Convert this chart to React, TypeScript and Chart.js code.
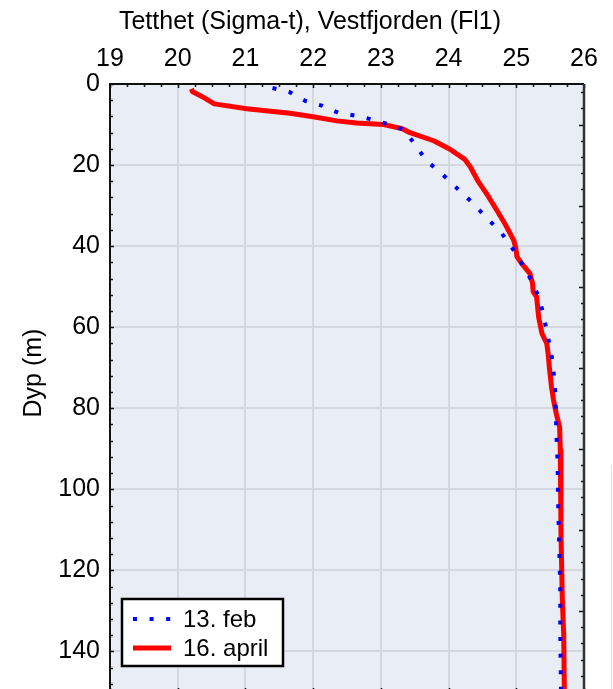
import React, { useEffect, useRef } from "react";
import { Chart, registerables } from "chart.js";

Chart.register(...registerables);

const chartTitle = "Tetthet (Sigma-t), Vestfjorden (Fl1)";
const yAxisTitle = "Dyp (m)";
const seriesLabels = ["13. feb", "16. april"];

// 13. feb: sigma-t and depth (m)
const febSigma = [21.40, 21.64, 21.89, 22.14, 22.37, 22.62, 22.86, 23.10, 23.33, 23.51, 23.67, 23.88, 24.11, 24.34, 24.55, 24.78, 24.95, 25.10, 25.23, 25.34, 25.40, 25.45, 25.50, 25.54, 25.56, 25.58, 25.59, 25.61, 25.62, 25.64, 25.65, 25.65, 25.66];
const febDepth = [1.0, 1.9, 4.2, 5.4, 7.1, 7.8, 8.7, 9.9, 11.2, 15.0, 18.9, 21.8, 25.5, 29.1, 32.8, 36.7, 40.7, 44.8, 48.7, 52.8, 56.9, 61.0, 65.0, 68.9, 73.0, 77.1, 85.2, 93.3, 105, 117.6, 125, 135, 150];

// 16. april: sigma-t and depth (m)
const aprSigma = [20.20, 20.22, 20.35, 20.54, 21.02, 21.66, 22.00, 22.35, 22.64, 23.04, 23.31, 23.43, 23.78, 24.02, 24.24, 24.32, 24.44, 24.59, 24.71, 24.83, 24.96, 24.99, 25.01, 25.08, 25.20, 25.24, 25.25, 25.30, 25.33, 25.38, 25.45, 25.47, 25.49, 25.52, 25.55, 25.59, 25.64, 25.65, 25.66, 25.68, 25.70, 25.71];
const aprDepth = [1.2, 1.9, 3.0, 4.9, 6.1, 7.2, 8.1, 9.1, 9.6, 10.0, 11.0, 12.0, 14.0, 16.1, 18.6, 20.4, 24.1, 27.8, 31.1, 34.4, 38.5, 40.2, 42.6, 44.3, 46.7, 49.2, 51.3, 52.5, 57.5, 61.6, 64.0, 66.5, 70.2, 74.7, 78.0, 81.3, 84.6, 90.4, 110.9, 127.4, 135.6, 150];

const xMin = 19;
const xMax = 26;
const xStep = 1;
const yMin = 0;
const yMax = 150;
const yStep = 20;

const FONT = "'Liberation Sans', Arial, sans-serif";
const FS = 25;

const framePlugin = {
  id: "frame",
  beforeDraw(chart: any) {
    const { ctx, chartArea: a } = chart;
    ctx.save();
    ctx.fillStyle = "#e9edf5";
    ctx.fillRect(a.left, a.top, a.right - a.left, a.bottom - a.top);
    ctx.restore();
  },
  afterDatasetsDraw(chart: any) {
    const { ctx, chartArea: a } = chart;
    const xs = chart.scales.x;
    const ys = chart.scales.y;
    ctx.save();
    ctx.strokeStyle = "#111";
    ctx.lineWidth = 1.5;
    for (let v = xMin; v <= xMax + 1e-6; v += 0.25) {
      const px = Math.round(xs.getPixelForValue(v)) + 0.5;
      const major = Math.abs(v - Math.round(v)) < 1e-6;
      const len = major ? 4 : 3;
      ctx.beginPath();
      ctx.moveTo(px, a.top);
      ctx.lineTo(px, a.top + len);
      ctx.moveTo(px, a.bottom);
      ctx.lineTo(px, a.bottom - len);
      ctx.stroke();
    }
    for (let d = yMin; d <= yMax; d += 4) {
      const py = Math.round(ys.getPixelForValue(d)) + 0.5;
      const major = d % 20 === 0;
      ctx.beginPath();
      ctx.moveTo(a.left, py);
      ctx.lineTo(a.left + (major ? 4 : 3), py);
      ctx.stroke();
    }
    for (let d = 2; d <= yMax; d += 4) {
      const py = Math.round(ys.getPixelForValue(d)) + 0.5;
      const major = (d - 10) % 20 === 0;
      ctx.beginPath();
      ctx.moveTo(a.right, py);
      ctx.lineTo(a.right - (major ? 5 : 3), py);
      ctx.stroke();
    }
    ctx.lineWidth = 2;
    ctx.strokeStyle = "#111";
    ctx.beginPath();
    ctx.moveTo(a.left, a.bottom);
    ctx.lineTo(a.left, a.top);
    ctx.lineTo(a.right, a.top);
    ctx.moveTo(a.left, a.bottom);
    ctx.lineTo(a.right, a.bottom);
    ctx.stroke();
    ctx.lineWidth = 2.5;
    ctx.strokeStyle = "#333";
    ctx.beginPath();
    ctx.moveTo(a.right, a.top);
    ctx.lineTo(a.right, a.bottom);
    ctx.stroke();

    // chart title
    ctx.fillStyle = "#000";
    ctx.font = `${FS}px ${FONT}`;
    ctx.textAlign = "center";
    ctx.textBaseline = "middle";
    ctx.fillText(chartTitle, 310, 22);

    // y axis title
    ctx.save();
    ctx.translate(34, 373);
    ctx.rotate(-Math.PI / 2);
    ctx.fillStyle = "#000";
    ctx.font = `${FS}px ${FONT}`;
    ctx.textAlign = "center";
    ctx.textBaseline = "middle";
    ctx.fillText(yAxisTitle, 0, 0);
    ctx.restore();

    const ds = chart.data.datasets;
    const bx = a.left + 12;
    const by = a.top + 515;
    const bw = 161;
    const bh = 67;
    ctx.fillStyle = "#fff";
    ctx.fillRect(bx, by, bw, bh);
    ctx.lineWidth = 2.5;
    ctx.strokeStyle = "#000";
    ctx.strokeRect(bx, by, bw, bh);
    const rows = [by + 20, by + 49];
    ds.forEach((d: any, i: number) => {
      const ry = rows[i];
      ctx.save();
      ctx.strokeStyle = d.borderColor;
      ctx.lineWidth = d.borderWidth;
      ctx.setLineDash(d.borderDash || []);
      ctx.beginPath();
      ctx.moveTo(bx + 11, ry);
      ctx.lineTo(bx + 49, ry);
      ctx.stroke();
      ctx.restore();
      ctx.fillStyle = "#000";
      ctx.font = `24px ${FONT}`;
      ctx.textAlign = "left";
      ctx.textBaseline = "middle";
      ctx.fillText(d.label, bx + 61, ry + 1);
    });
    ctx.restore();
  },
};

export default function App() {
  const ref = useRef<HTMLCanvasElement | null>(null);
  useEffect(() => {
    if (!ref.current) return;
    const chart = new Chart(ref.current, {
      type: "scatter",
      data: {
        datasets: [
          {
            label: seriesLabels[0],
            data: febSigma.map((s, i) => ({ x: s, y: febDepth[i] })),
            showLine: true,
            borderColor: "#0000ff",
            borderWidth: 4,
            borderDash: [4, 12.6],
            borderCapStyle: "butt",
            pointRadius: 0,
            tension: 0,
          },
          {
            label: seriesLabels[1],
            data: aprSigma.map((s, i) => ({ x: s, y: aprDepth[i] })),
            showLine: true,
            borderColor: "#ff0000",
            borderWidth: 5,
            borderJoinStyle: "round",
            pointRadius: 0,
            tension: 0,
          },
        ],
      },
      options: {
        responsive: false,
        animation: false,
        layout: { padding: { left: 0, right: 0, top: 0, bottom: 8 } },
        plugins: { legend: { display: false }, tooltip: { enabled: false } },
        scales: {
          x: {
            type: "linear",
            position: "top",
            min: xMin,
            max: xMax,
            ticks: { stepSize: xStep, color: "#000", font: { family: FONT, size: FS }, padding: 10, maxRotation: 0 },
            grid: { color: "#d5d8de", lineWidth: 2, drawTicks: false },
            border: { display: false },
            title: { display: false },
            afterFit: (s: any) => { s.height = 84; s.paddingLeft = 0; s.paddingRight = 0; },
          },
          y: {
            type: "linear",
            position: "left",
            reverse: true,
            min: yMin,
            max: yMax,
            ticks: { stepSize: yStep, includeBounds: false, color: "#000", font: { family: FONT, size: FS }, padding: 10 },
            grid: { color: "#d5d8de", lineWidth: 2, drawTicks: false },
            border: { display: false },
            afterFit: (s: any) => { s.width = 110; s.paddingTop = 0; s.paddingBottom = 0; },
          },
          y2: {
            type: "linear",
            position: "right",
            reverse: true,
            min: yMin,
            max: yMax,
            ticks: { display: false },
            grid: { display: false, drawTicks: false },
            border: { display: false },
            afterFit: (s: any) => { s.width = 29; s.paddingTop = 0; s.paddingBottom = 0; },
          },
        },
      },
      plugins: [framePlugin],
    } as any);
    return () => chart.destroy();
  }, []);
  return (
    <div style={{ position: "fixed", left: 0, top: 0, width: 613, height: 700, background: "#fff" }}>
      <canvas ref={ref} width={613} height={700} />
      <div style={{ position: "absolute", left: 611, top: 465, width: 1, height: 235, background: "#cfe5f6" }} />
    </div>
  );
}
